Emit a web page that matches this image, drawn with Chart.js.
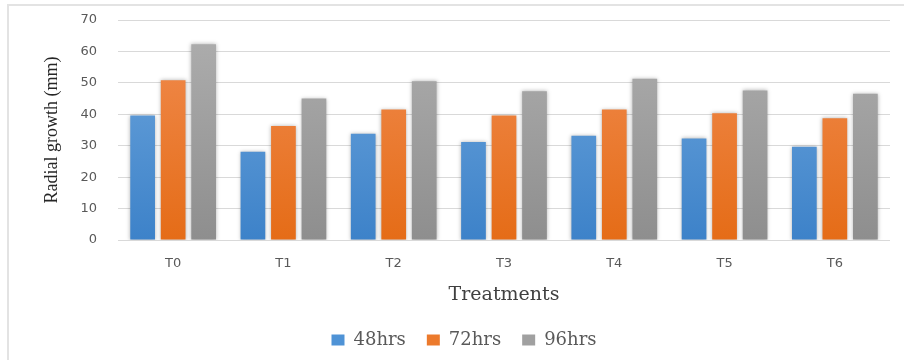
<!DOCTYPE html>
<html>
<head>
<meta charset="utf-8">
<script src="https://cdn.jsdelivr.net/npm/chart.js@4"></script>
<style>
  html, body { margin: 0; padding: 0; background: #ffffff; }
  #wrap { position: relative; width: 904px; height: 360px; }
  #frame { position: absolute; left: 7px; top: 4px; width: 897px; height: 356px;
           border-left: 2px solid #e3e3e3; border-top: 2px solid #e3e3e3; box-sizing: border-box; }
  canvas { position: absolute; left: 0; top: 0; }
</style>
</head>
<body>
<div id="wrap">
  <div id="frame"></div>
  <canvas id="c" width="904" height="360"></canvas>
</div>
<script>
const categories = ['T0', 'T1', 'T2', 'T3', 'T4', 'T5', 'T6'];
const seriesNames = ['48hrs', '72hrs', '96hrs'];
const values48 = [39.6, 28.1, 33.8, 31.2, 33.2, 32.3, 29.7];
const values72 = [50.8, 36.3, 41.5, 39.6, 41.5, 40.3, 38.7];
const values96 = [62.3, 45.0, 50.5, 47.3, 51.3, 47.6, 46.5];
const yTicks = [0, 10, 20, 30, 40, 50, 60, 70];

const palette = [
  { top: '#6fa7dd', bottom: '#3d82c9', legend: '#4f93d6' },
  { top: '#f18d52', bottom: '#e56c17', legend: '#ec7a2c' },
  { top: '#afafaf', bottom: '#8e8e8e', legend: '#a0a0a0' }
];

function gradFor(i) {
  return function (ctx) {
    const chart = ctx.chart;
    const area = chart.chartArea;
    if (!area) return palette[i].legend;
    const g = chart.ctx.createLinearGradient(0, area.top, 0, area.bottom);
    g.addColorStop(0, palette[i].top);
    g.addColorStop(1, palette[i].bottom);
    return g;
  };
}

const shadowPlugin = {
  id: 'shadow',
  beforeDatasetsDraw(chart) {
    const c = chart.ctx;
    c.save();
    c.shadowColor = 'rgba(0,0,0,0.30)';
    c.shadowBlur = 4;
    c.shadowOffsetX = 0;
    c.shadowOffsetY = 0;
  },
  afterDatasetsDraw(chart) {
    chart.ctx.restore();
  }
};

const dataSets = [values48, values72, values96].map((vals, i) => ({
  label: seriesNames[i],
  data: vals,
  backgroundColor: gradFor(i),
  borderWidth: 0,
  categoryPercentage: 0.83,
  barPercentage: 0.81
}));

new Chart(document.getElementById('c'), {
  type: 'bar',
  data: { labels: categories, datasets: dataSets },
  plugins: [shadowPlugin],
  options: {
    responsive: false,
    animation: false,
    layout: { padding: { left: 38, right: 14, top: 20, bottom: 1 } },
    plugins: {
      tooltip: { enabled: false },
      legend: {
        position: 'bottom',
        labels: {
          boxWidth: 13,
          boxHeight: 11,
          padding: 21,
          color: '#595959',
          font: { family: 'DejaVu Serif', size: 18 },
          generateLabels(chart) {
            return chart.data.datasets.map((d, i) => ({
              text: d.label,
              fillStyle: palette[i].legend,
              strokeStyle: palette[i].legend,
              lineWidth: 0,
              hidden: false,
              datasetIndex: i,
              fontColor: '#595959'
            }));
          }
        }
      }
    },
    scales: {
      x: {
        grid: { display: false, drawTicks: false },
        border: { display: false },
        ticks: { color: '#595959', padding: 16, font: { family: 'DejaVu Sans', size: 13 } },
        title: {
          display: true,
          text: 'Treatments',
          color: '#404040',
          font: { family: 'DejaVu Serif', size: 19 },
          padding: { top: 0, bottom: 3.6 }
        },
        afterFit(scale) { scale.height = 70; }
      },
      y: {
        min: 0,
        max: 70,
        afterBuildTicks(scale) { scale.ticks = yTicks.map(v => ({ value: v })); },
        grid: { color: '#d9d9d9', lineWidth: 1, drawTicks: true, tickLength: 18, tickColor: 'rgba(0,0,0,0)' },
        border: { display: false },
        ticks: { color: '#595959', padding: 3, font: { family: 'DejaVu Sans', size: 13 } },
        title: {
          display: true,
          text: 'Radial growth (mm)',
          color: '#262626',
          font: { family: 'Liberation Serif', size: 18 },
          padding: { top: 3, bottom: 0 }
        },
        afterFit(scale) { scale.width = 80; }
      }
    }
  }
});
</script>
</body>
</html>
